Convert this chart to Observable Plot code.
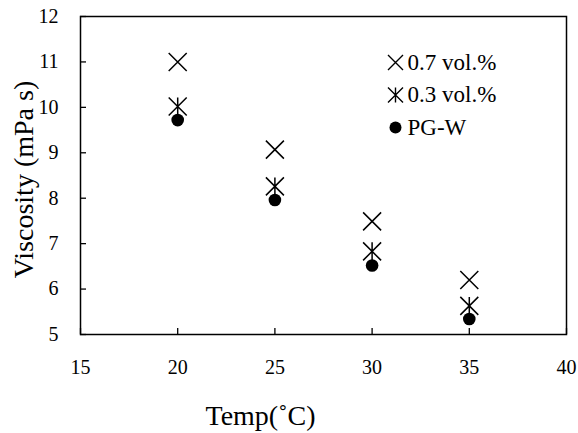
<!DOCTYPE html>
<html><head><meta charset="utf-8">
<script src="https://cdn.jsdelivr.net/npm/d3@7"></script>
<script src="https://cdn.jsdelivr.net/npm/@observablehq/plot@0.6"></script>
<style>
body{margin:0;background:#fff}
svg text{font-family:'Liberation Serif','Times New Roman',serif !important;}
</style>
</head><body><div id="chart"></div>
<script>
const temps = [20, 25, 30, 35];
const seriesNames = ["0.7 vol.%", "0.3 vol.%", "PG-W"];
const visc07 = [11.0, 9.07, 7.49, 6.2];
const visc03 = [10.02, 8.26, 6.83, 5.63];
const viscPGW = [9.72, 7.96, 6.52, 5.34];
const xTicks = [15, 20, 25, 30, 35, 40];
const yTicks = [5, 6, 7, 8, 9, 10, 11, 12];
const xLabel = "Temp(˚C)";
const yLabel = "Viscosity (mPa s)";

const FONT = "'Liberation Serif', 'Times New Roman', serif";

const timesSym = {draw(ctx, size) {
  const h = Math.sqrt(size / Math.PI);
  ctx.moveTo(-h, -h); ctx.lineTo(h, h);
  ctx.moveTo(-h, h); ctx.lineTo(h, -h);
}};
const asterSym = {draw(ctx, size) {
  const h = Math.sqrt(size / Math.PI);
  ctx.moveTo(-h, -h); ctx.lineTo(h, h);
  ctx.moveTo(-h, h); ctx.lineTo(h, -h);
  ctx.moveTo(0, -h); ctx.lineTo(0, h);
}};

const rows = temps.map((t, i) => ({temp: t, v07: visc07[i], v03: visc03[i], pgw: viscPGW[i]}));

const legendStyles = [
  {symbol: timesSym, fill: "none", stroke: "black", strokeWidth: 1.4, r: 7.5},
  {symbol: asterSym, fill: "none", stroke: "black", strokeWidth: 1.4, r: 7.5},
  {symbol: "circle", fill: "black", stroke: "none", r: 6}
];
const legendMarks = seriesNames.flatMap((name, i) => [
  Plot.dot([name], {frameAnchor: "top-left", dx: 315, dy: 46 + i * 32.5, ...legendStyles[i]}),
  Plot.text([name], {frameAnchor: "top-left", dx: 327, dy: 46 + i * 32.5, textAnchor: "start", lineAnchor: "middle", fontSize: 23, fontFamily: FONT, fill: "black"})
]);

const chart = Plot.plot({
  width: 578,
  height: 433,
  marginLeft: 80,
  marginRight: 12,
  marginTop: 16,
  marginBottom: 99,
  style: {fontFamily: FONT, background: "white", color: "black"},
  x: {domain: [15, 40], ticks: xTicks},
  y: {domain: [5, 12], ticks: yTicks},
  marks: [
    Plot.frame({stroke: "black", strokeWidth: 1.5}),
    Plot.axisX(xTicks, {tickSize: -6, tickPadding: 31, fontSize: 20, fontFamily: FONT, label: null, strokeWidth: 1.3}),
    Plot.axisY(yTicks, {tickSize: -6, tickPadding: 28, fontSize: 20, fontFamily: FONT, label: null, strokeWidth: 1.3}),
    Plot.dot(rows, {x: "temp", y: "v07", symbol: timesSym, r: 9, fill: "none", stroke: "black", strokeWidth: 1.5}),
    Plot.dot(rows, {x: "temp", y: "v03", symbol: asterSym, r: 9, fill: "none", stroke: "black", strokeWidth: 1.5}),
    Plot.dot(rows, {x: "temp", y: "pgw", r: 6.3, fill: "black"}),
    ...legendMarks,
    Plot.text([xLabel], {frameAnchor: "bottom-left", dx: 125, dy: 82, textAnchor: "start", lineAnchor: "middle", fontSize: 28, fontFamily: FONT, fill: "black"}),
    Plot.text([yLabel], {frameAnchor: "left", dx: -56, dy: 4, rotate: -90, textAnchor: "middle", lineAnchor: "middle", fontSize: 28, fontFamily: FONT, fill: "black"})
  ]
});
d3.select(chart).selectAll("text").attr("font-family", FONT).style("font-family", FONT);
d3.select(chart).selectAll("g").attr("font-family", null);
document.getElementById("chart").appendChild(chart);
</script>
</body></html>
